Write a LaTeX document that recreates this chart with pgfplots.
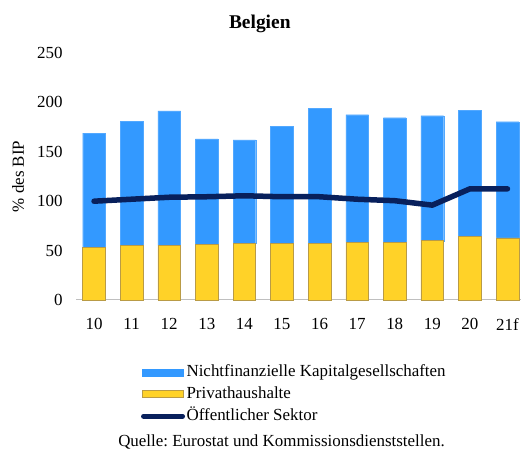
\documentclass[border=0pt]{standalone}
\usepackage{fontspec}
\setmainfont{Liberation Serif}
\usepackage{pgfplots}
\usepackage{pgfplotstable}
\pgfplotsset{compat=1.18}
\definecolor{nfc}{RGB}{51,153,255}
\definecolor{hh}{RGB}{255,210,40}
\definecolor{hhedge}{RGB}{185,155,70}
\definecolor{gov}{RGB}{8,32,92}
\frenchspacing

\pgfplotstableread{
x hh nfc gov
0 53 116 100
1 55 126 102
2 55 136.5 104
3 56 107 104.5
4 57.5 104.5 105.5
5 57.5 118 104.5
6 57.5 136.5 104.5
7 58.5 129 102
8 58.5 126 100.5
9 60 126.5 96
10 64.5 127.5 112.5
11 63 117.5 112.5
}\datatable

\begin{document}
\begin{tikzpicture}
\useasboundingbox (0,0) rectangle (521bp,455bp);
\pgfplotsset{common/.style={
  at={(76bp,155bp)}, anchor=south west,
  scale only axis, width=445bp, height=247bp,
  xmin=-0.48, xmax=11.36, ymin=0, ymax=250,
  clip=false,
}}
\begin{axis}[
  common,
  axis x line*=bottom, axis y line*=left,
  x axis line style={draw=black!25, line width=1bp},
  y axis line style={draw=none},
  ytick={0,50,...,250}, xtick=data,
  xticklabels={10,11,12,13,14,15,16,17,18,19,20,21f},
  tick style={draw=none},
  tick label style={font=\fontsize{17}{20}\selectfont},
  /pgf/number format/assume math mode=true,
  yticklabel style={xshift=-10bp},
  xticklabel style={yshift=-15bp},
  title={\textbf{Belgien}},
  title style={at={(axis description cs:0.413,1.093)}, anchor=center, font=\fontsize{19.5}{23}\selectfont},
  ylabel={\% des BIP},
  ylabel style={at={(axis description cs:-0.130,0.5)}, anchor=center, font=\fontsize{17}{20}\selectfont},
  ybar stacked, bar width=0.605,
  legend style={at={(axis description cs:0.139,-0.245)}, anchor=north west, draw=none, fill=none,
    font=\fontsize{17}{20}\selectfont, row sep=3bp,
    nodes={inner sep=1.5bp, text height=12bp, text depth=4bp}},
  legend cell align=left,
]
\addlegendimage{legend image code/.code={\fill[nfc] (0bp,-3.5bp) rectangle (41bp,3.5bp);}}
\addlegendimage{legend image code/.code={\filldraw[fill=hh, draw=hhedge, line width=0.8bp] (0bp,-3.5bp) rectangle (41bp,3.5bp);}}
\addlegendimage{legend image code/.code={\draw[gov, line width=5bp, line cap=round] (1bp,0) -- (40bp,0);}}
\addplot[fill=hh, draw=hhedge, line width=0.5bp] table[x=x, y=hh] {\datatable};
\addplot[fill=nfc, draw=nfc!85!white, line width=0.3bp] table[x=x, y=nfc] {\datatable};
\legend{Nichtfinanzielle Kapitalgesellschaften, Privathaushalte, Öffentlicher Sektor}
\end{axis}
\begin{axis}[common, hide axis]
\addplot[sharp plot, gov, line width=5.5bp, line join=round, line cap=round, mark=none] table[x=x, y=gov] {\datatable};
\end{axis}
\node[font=\fontsize{17}{20}\selectfont] at (281.5bp,13bp) {Quelle: Eurostat und Kommissionsdienststellen.};
\end{tikzpicture}
\end{document}
